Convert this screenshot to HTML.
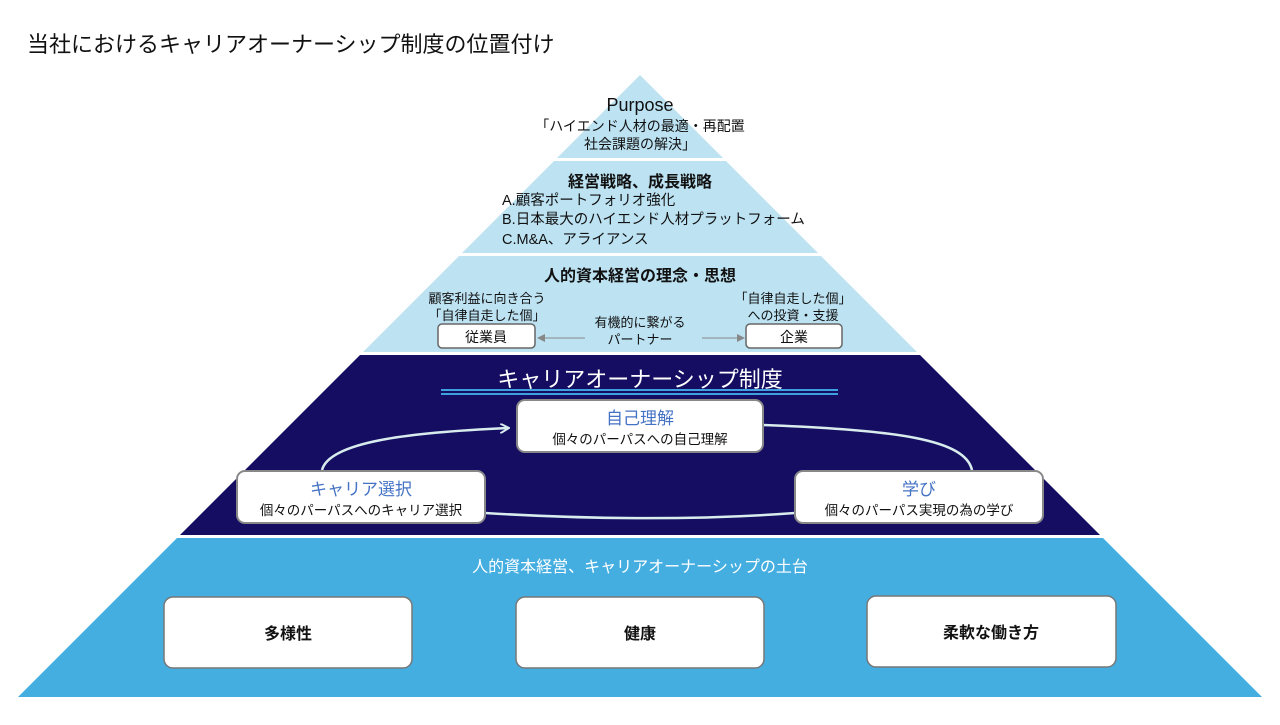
<!DOCTYPE html>
<html><head><meta charset="utf-8"><style>
html,body{margin:0;padding:0;background:#fff;}
svg text{font-family:"Liberation Sans","Noto Sans CJK JP",sans-serif;}
</style></head><body>
<svg width="1280" height="720" viewBox="0 0 1280 720" xmlns="http://www.w3.org/2000/svg">
<defs>
<clipPath id="tri"><polygon points="640,75 18,697 1262,697"/></clipPath>
<marker id="ah" markerWidth="10" markerHeight="10" refX="8" refY="5" orient="auto" markerUnits="userSpaceOnUse"><path d="M0,0 L9,5 L0,10" fill="none" stroke="#d8ecee" stroke-width="2"/></marker>
<marker id="ga" markerWidth="8" markerHeight="8" refX="7" refY="4" orient="auto" markerUnits="userSpaceOnUse"><path d="M0,0 L8,4 L0,8z" fill="#888"/></marker>
</defs>
<text x="27" y="52" font-size="22" fill="#111">当社におけるキャリアオーナーシップ制度の位置付け</text>
<g clip-path="url(#tri)">
<rect x="0" y="75" width="1280" height="83" fill="#bde3f3"/>
<rect x="0" y="161" width="1280" height="92" fill="#bde3f3"/>
<rect x="0" y="256" width="1280" height="96" fill="#bde3f3"/>
<rect x="0" y="355" width="1280" height="180" fill="#140d62"/>
<rect x="0" y="538" width="1280" height="160" fill="#45aee0"/>
</g>
<g text-anchor="middle" fill="#111">
<text x="640" y="111" font-size="18">Purpose</text>
<text x="640" y="131" font-size="14">「ハイエンド人材の最適・再配置</text>
<text x="640" y="149" font-size="14">社会課題の解決」</text>
<text x="640" y="187" font-size="16" font-weight="bold">経営戦略、成長戦略</text>
<text x="640" y="281" font-size="16" font-weight="bold">人的資本経営の理念・思想</text>
<text x="487" y="303" font-size="13">顧客利益に向き合う</text>
<text x="487" y="320" font-size="13">「自律自走した個」</text>
<text x="793" y="303" font-size="13">「自律自走した個」</text>
<text x="793" y="320" font-size="13">への投資・支援</text>
<text x="640" y="327" font-size="13">有機的に繋がる</text>
<text x="640" y="344" font-size="13">パートナー</text>
</g>
<g fill="#111" font-size="14.5">
<text x="502" y="205">A.顧客ポートフォリオ強化</text>
<text x="502" y="224">B.日本最大のハイエンド人材プラットフォーム</text>
<text x="502" y="244">C.M&amp;A、アライアンス</text>
</g>
<rect x="438" y="324" width="97" height="24" rx="4" fill="#fff" stroke="#666" stroke-width="1.5"/>
<rect x="746" y="324" width="96" height="24" rx="4" fill="#fff" stroke="#666" stroke-width="1.5"/>
<text x="486" y="342" font-size="14" text-anchor="middle" fill="#111">従業員</text>
<text x="794" y="342" font-size="14" text-anchor="middle" fill="#111">企業</text>
<line x1="585" y1="338" x2="538" y2="338" stroke="#888" stroke-width="1" marker-end="url(#ga)"/>
<line x1="702" y1="338" x2="744" y2="338" stroke="#888" stroke-width="1" marker-end="url(#ga)"/>
<text x="640" y="387" font-size="22" text-anchor="middle" fill="#fff">キャリアオーナーシップ制度</text>
<line x1="441" y1="390" x2="838" y2="390" stroke="#3fa0e0" stroke-width="2"/>
<line x1="441" y1="394" x2="838" y2="394" stroke="#3fa0e0" stroke-width="2"/>
<path d="M322,470 C330,440 420,432 508,428" fill="none" stroke="#d8ecee" stroke-width="2.5" marker-end="url(#ah)"/>
<path d="M763,425 C900,430 965,440 972,470" fill="none" stroke="#d8ecee" stroke-width="2.5"/>
<path d="M485,513 C600,520 700,520 795,513" fill="none" stroke="#d8ecee" stroke-width="2.5"/>
<g fill="#fff" stroke="#888" stroke-width="2">
<rect x="517" y="400" width="246" height="52" rx="8"/>
<rect x="237" y="471" width="248" height="52" rx="8"/>
<rect x="795" y="471" width="248" height="52" rx="8"/>
</g>
<g text-anchor="middle">
<text x="640" y="424" font-size="17" fill="#4472c4">自己理解</text>
<text x="640" y="444" font-size="13.5" fill="#111">個々のパーパスへの自己理解</text>
<text x="361" y="495" font-size="17" fill="#4472c4">キャリア選択</text>
<text x="361" y="515" font-size="13.5" fill="#111">個々のパーパスへのキャリア選択</text>
<text x="919" y="495" font-size="17" fill="#4472c4">学び</text>
<text x="919" y="515" font-size="13.5" fill="#111">個々のパーパス実現の為の学び</text>
<text x="640" y="572" font-size="16" fill="#fff">人的資本経営、キャリアオーナーシップの土台</text>
</g>
<g fill="#fff" stroke="#777" stroke-width="1.5">
<rect x="164" y="597" width="248" height="71" rx="9"/>
<rect x="516" y="597" width="248" height="71" rx="9"/>
<rect x="867" y="596" width="249" height="71" rx="9"/>
</g>
<g text-anchor="middle" font-size="16" font-weight="bold" fill="#111">
<text x="288" y="639">多様性</text>
<text x="640" y="639">健康</text>
<text x="991" y="638">柔軟な働き方</text>
</g>
</svg>
</body></html>
